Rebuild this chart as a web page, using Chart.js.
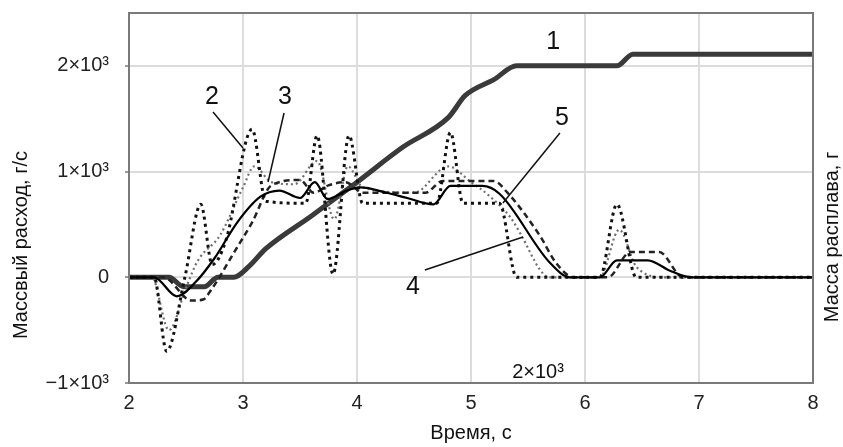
<!DOCTYPE html>
<html>
<head>
<meta charset="utf-8">
<script src="https://cdn.jsdelivr.net/npm/chart.js@4.4.1/dist/chart.umd.min.js"></script>
<style>
  body { margin: 0; background: #fff; }
  canvas { display: block; }
</style>
</head>
<body>
<canvas id="myChart" width="843" height="447"></canvas>
<script>
// 1 - масса расплава
const tMass = [2, 2.35, 2.48, 2.66, 2.78, 2.92, 3.05, 3.2, 3.6, 4.0, 4.4, 4.8, 4.95, 5.2, 5.4, 6.28, 6.42, 8];
const mass  = [0, 0, -90, -90, 0, 0, 100, 270, 580, 900, 1230, 1510, 1720, 1870, 2000, 2000, 2110, 2110];

// 2 - точечная, сильные колебания
const t2 = [2, 2.22, 2.33, 2.49, 2.63, 2.73, 2.85, 3.08, 3.2, 3.55, 3.65, 3.79, 3.93, 4.05, 4.7, 4.82, 4.93, 5.25, 5.4, 6.13, 6.28, 6.45, 8];
const q2 = [0, 0, -700, 0, 690, 120, 350, 1400, 720, 700, 1340, 30, 1340, 700, 700, 1370, 700, 700, 0, 0, 690, 0, 0];

// 3 - штриховая
const t3 = [2, 2.3, 2.55, 2.65, 2.72, 2.93, 3.08, 3.25, 3.5, 3.62, 3.75, 3.9, 4.05, 4.6, 4.75, 5.2, 5.32, 5.6, 5.75, 5.9, 6.2, 6.4, 6.65, 6.86, 8];
const q3 = [0, 0, -220, -210, -120, 250, 520, 870, 920, 800, 870, 900, 800, 800, 910, 910, 800, 400, 130, 0, 0, 240, 240, 0, 0];

// 4 - серая точечная
const t4 = [2, 2.2, 2.35, 2.5, 2.6, 2.8, 3.0, 3.1, 3.25, 3.45, 3.65, 3.8, 3.92, 4.05, 4.5, 4.8, 5.0, 5.15, 5.35, 5.45, 5.6, 5.68, 6.13, 6.3, 6.45, 6.7, 8];
const q4 = [0, 0, -500, -100, 150, 400, 850, 1050, 900, 880, 1100, 550, 1050, 850, 800, 1050, 900, 780, 560, 380, 80, 0, 0, 450, 100, 0, 0];

// 5 - сплошная
const t5 = [2, 2.22, 2.42, 2.58, 2.75, 2.95, 3.15, 3.32, 3.5, 3.63, 3.74, 3.91, 4.03, 4.26, 4.44, 4.67, 4.82, 5.1, 5.25, 5.69, 5.87, 6.13, 6.28, 6.55, 6.75, 6.93, 8];
const q5 = [0, 0, -180, -50, 180, 520, 760, 820, 750, 900, 740, 820, 850, 800, 750, 690, 864, 864, 790, 140, 0, 0, 160, 160, 60, 0, 0];

const yTickValues = [-1000, 0, 1000, 2000];
const yTickLabels = ['\u22121\u00d710\u00b3', '0', '1\u00d710\u00b3', '2\u00d710\u00b3'];

const FONT = '"Liberation Sans", Arial, sans-serif';

function pts(t, v) {
  return t.map((x, i) => ({ x: x, y: v[i] }));
}

// подписи кривых, в единицах осей
const notes = {
  id: 'notes',
  afterDatasetsDraw(chart) {
    const { ctx, chartArea: a, scales: { x, y } } = chart;
    ctx.save();
    ctx.strokeStyle = '#7a7a7a';
    ctx.lineWidth = 2;
    ctx.strokeRect(a.left, a.top, a.right - a.left, a.bottom - a.top);

    const labels = [
      ['1', 5.72, 2226, null],
      ['2', 2.728, 1706, [2.737, 1564, 3.0, 1223]],
      ['3', 3.368, 1706, [3.36, 1554, 3.22, 901]],
      ['4', 4.49, -92, [4.596, 69, 5.456, 381]],
      ['5', 5.798, 1507, [5.78, 1365, 5.28, 703]]
    ];
    ctx.fillStyle = '#111';
    ctx.strokeStyle = '#111';
    ctx.lineWidth = 1.5;
    ctx.font = '25px ' + FONT;
    ctx.textAlign = 'center';
    ctx.textBaseline = 'middle';
    labels.forEach(l => {
      ctx.fillText(l[0], x.getPixelForValue(l[1]), y.getPixelForValue(l[2]));
      if (l[3]) {
        ctx.beginPath();
        ctx.moveTo(x.getPixelForValue(l[3][0]), y.getPixelForValue(l[3][1]));
        ctx.lineTo(x.getPixelForValue(l[3][2]), y.getPixelForValue(l[3][3]));
        ctx.stroke();
      }
    });

    // лишняя метка правой оси
    ctx.font = '20px ' + FONT;
    ctx.fillText('2\u00d710\u00b3', x.getPixelForValue(5.588), y.getPixelForValue(-905));

    // названия осей
    ctx.font = '20px ' + FONT;
    ctx.fillText('Время, с', (a.left + a.right) / 2, 433);

    ctx.translate(21, 245);
    ctx.rotate(-Math.PI / 2);
    ctx.fillText('Массвый расход, г/с', 0, 0);
    ctx.restore();

    ctx.save();
    ctx.fillStyle = '#111';
    ctx.font = '20px ' + FONT;
    ctx.textAlign = 'center';
    ctx.textBaseline = 'middle';
    ctx.translate(832, 237);
    ctx.rotate(-Math.PI / 2);
    ctx.fillText('Масса расплава, г', 0, 0);
    ctx.restore();
  }
};

let myChart = document.getElementById('myChart').getContext('2d');

let flowChart = new Chart(myChart, {
  type: 'line',
  data: {
    datasets: [
      { label: '1', data: pts(tMass, mass), borderColor: '#3a3a3a', borderWidth: 5, order: 5 },
      { label: '2', data: pts(t2, q2), borderColor: '#111', borderWidth: 3, borderDash: [3, 4], order: 2 },
      { label: '3', data: pts(t3, q3), borderColor: '#222', borderWidth: 2.5, borderDash: [6, 4], order: 3 },
      { label: '4', data: pts(t4, q4), borderColor: '#707070', borderWidth: 2.2, borderDash: [2, 3], order: 4 },
      { label: '5', data: pts(t5, q5), borderColor: '#000', borderWidth: 2.2, order: 1 }
    ]
  },
  options: {
    responsive: false,
    animation: false,
    devicePixelRatio: 1,
    layout: { padding: { top: 0, right: 30, left: 0, bottom: 0 } },
    elements: {
      point: { radius: 0 },
      line: { cubicInterpolationMode: 'monotone', fill: false }
    },
    plugins: {
      legend: { display: false },
      tooltip: { enabled: false }
    },
    scales: {
      x: {
        type: 'linear',
        min: 2,
        max: 8,
        ticks: { stepSize: 1, color: '#222', font: { size: 20, family: FONT }, padding: 8 },
        grid: { color: '#dcdcdc', lineWidth: 2, drawTicks: false },
        border: { display: false },
        afterFit: s => { s.height = 64; }
      },
      y: {
        type: 'linear',
        min: -1000,
        max: 2500,
        afterBuildTicks: s => { s.ticks = yTickValues.map(v => ({ value: v })); },
        ticks: {
          color: '#222',
          font: { size: 20, family: FONT },
          padding: 16,
          callback: v => yTickLabels[yTickValues.indexOf(v)]
        },
        grid: { color: '#dcdcdc', lineWidth: 2, tickLength: 4, tickColor: '#999' },
        border: { display: false },
        afterFit: s => { s.width = 129; s.paddingTop = 13; s.paddingBottom = 0; }
      }
    }
  },
  plugins: [notes]
});
</script>
</body>
</html>
